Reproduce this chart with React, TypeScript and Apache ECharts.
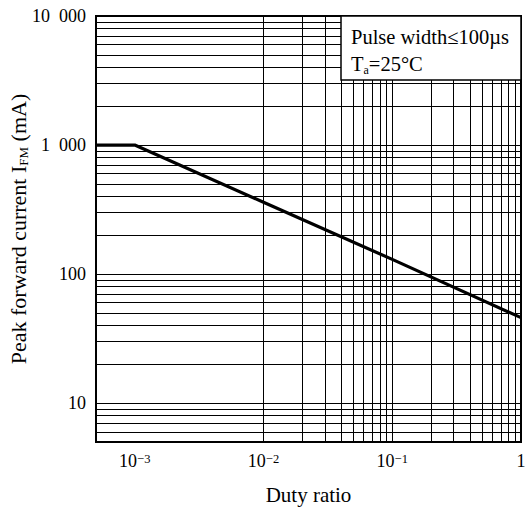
import React, { useEffect, useRef } from 'react';
import * as echarts from 'echarts';

// Curve (log-log)
const dutyRatio = [0.0005, 0.001, 0.01, 0.1, 1];
const peakCurrent = [1000, 1000, 360, 130, 46];

// Axis ranges and tick labels
const xMin = 0.0005;
const xMax = 1;
const yMin = 5;
const yMax = 10000;
const xTickValues = [0.001, 0.01, 0.1, 1];
const xTickLabels = ['10{s|\u22123}', '10{s|\u22122}', '10{s|\u22121}', '1'];
const yTickValues = [10, 100, 1000, 10000];
const yTickLabels = ['10', '100', '1\u2002000', '10\u2002000'];

// Log grid subdivisions
const gridMultipliers = [1, 2, 3, 4, 5, 6, 7, 8, 9];
const xDecades = [0.0001, 0.001, 0.01, 0.1, 1];
const yDecades = [1, 10, 100, 1000, 10000];

const FONT = '"Liberation Serif", "Times New Roman", serif';

function gridValues(decades: number[], lo: number, hi: number): number[] {
  const out: number[] = [];
  decades.forEach((d) => {
    gridMultipliers.forEach((m) => {
      const v = d * m;
      if (v > lo * (1 + 1e-9) && v < hi * (1 - 1e-9)) out.push(v);
    });
  });
  return out;
}

function matchIndex(v: number, ticks: number[]): number {
  for (let i = 0; i < ticks.length; i++) {
    if (Math.abs(v - ticks[i]) / ticks[i] < 1e-6) return i;
  }
  return -1;
}

export default function App() {
  const ref = useRef<HTMLDivElement>(null);
  useEffect(() => {
    if (!ref.current) return;
    const chart = echarts.init(ref.current, undefined, { renderer: 'svg' });
    const xGrid = gridValues(xDecades, xMin, xMax);
    const yGrid = gridValues(yDecades, yMin, yMax);
    const lineData = dutyRatio.map((d, i) => [d, peakCurrent[i]]);
    const gridLineStyle = { type: 'solid', color: '#000', width: 1 };

    chart.setOption({
      animation: false,
      textStyle: { fontFamily: FONT, color: '#000' },
      grid: {
        left: 96,
        top: 16,
        width: 425,
        height: 426,
        containLabel: false,
        outerBoundsMode: 'none',
        show: true,
        borderColor: '#000',
        borderWidth: 2,
        backgroundColor: 'transparent',
      },
      xAxis: {
        type: 'log',
        logBase: 10,
        min: xMin,
        max: xMax,
        name: 'Duty ratio',
        nameLocation: 'middle',
        nameGap: 42,
        nameMoveOverlap: false,
        nameTextStyle: { fontFamily: FONT, fontSize: 21, color: '#000' },
        axisLine: { show: true, lineStyle: { color: '#000', width: 2 } },
        axisTick: { show: false },
        splitLine: { show: false },
        minorTick: { show: false },
        axisLabel: {
          margin: 10,
          fontFamily: FONT,
          fontSize: 18,
          color: '#000',
          showMinLabel: false,
          hideOverlap: false,
          formatter: (v: number) => {
            const i = matchIndex(v, xTickValues);
            return i < 0 ? '' : xTickLabels[i];
          },
          rich: {
            s: { fontFamily: FONT, fontSize: 12.5, color: '#000', verticalAlign: 'top', lineHeight: 12 },
          },
        },
      },
      yAxis: {
        type: 'log',
        logBase: 10,
        min: yMin,
        max: yMax,
        name: 'Peak forward current I{sub|FM} (mA)',
        nameLocation: 'middle',
        nameRotate: 90,
        nameGap: 66,
        nameMoveOverlap: false,
        nameTextStyle: {
          fontFamily: FONT,
          fontSize: 22,
          color: '#000',
          lineHeight: 24,
          rich: {
            sub: { fontFamily: FONT, fontSize: 13, color: '#000', verticalAlign: 'bottom', lineHeight: 13 },
          },
        },
        axisLine: { show: true, lineStyle: { color: '#000', width: 2 } },
        axisTick: { show: false },
        splitLine: { show: false },
        minorTick: { show: false },
        axisLabel: {
          margin: 10,
          fontFamily: FONT,
          fontSize: 18,
          color: '#000',
          showMinLabel: false,
          formatter: (v: number) => {
            const i = matchIndex(v, yTickValues);
            return i < 0 ? '' : yTickLabels[i];
          },
        },
      },
      series: [
        {
          type: 'line',
          z: 1,
          data: lineData,
          showSymbol: false,
          lineStyle: { opacity: 0 },
          silent: true,
          markLine: {
            silent: true,
            symbol: ['none', 'none'],
            label: { show: false },
            emphasis: { disabled: true },
            lineStyle: gridLineStyle,
            data: [
              ...xGrid.map((v) => ({ xAxis: v })),
              ...yGrid.map((v) => ({ yAxis: v })),
            ],
          },
        },
        {
          type: 'line',
          z: 5,
          data: lineData,
          showSymbol: false,
          symbol: 'none',
          lineStyle: { color: '#000', width: 3.2 },
          silent: true,
        },
      ],
      graphic: [
        {
          type: 'rect',
          z: 100,
          shape: { x: 341, y: 16, width: 180, height: 64 },
          style: { fill: '#fff', stroke: '#000', lineWidth: 1.5 },
        },
        {
          type: 'text',
          z: 101,
          x: 351,
          y: 37,
          style: {
            text: 'Pulse width\u2264100\u00b5s',
            fontFamily: FONT,
            fontSize: 20.5,
            fill: '#000',
            verticalAlign: 'middle',
          },
        },
        {
          type: 'text',
          z: 101,
          x: 351,
          y: 64,
          style: {
            text: 'T{sub|a}=25\u00b0C',
            fontFamily: FONT,
            fontSize: 20.5,
            fill: '#000',
            verticalAlign: 'middle',
            lineHeight: 24,
            rich: {
              sub: { fontFamily: FONT, fontSize: 12, fill: '#000', verticalAlign: 'bottom', lineHeight: 12 },
            },
          },
        },
      ],
    });
    return () => chart.dispose();
  }, []);
  return (
    <div
      ref={ref}
      style={{ position: 'fixed', left: 0, top: 0, width: 525, height: 512, background: '#fff' }}
    />
  );
}
